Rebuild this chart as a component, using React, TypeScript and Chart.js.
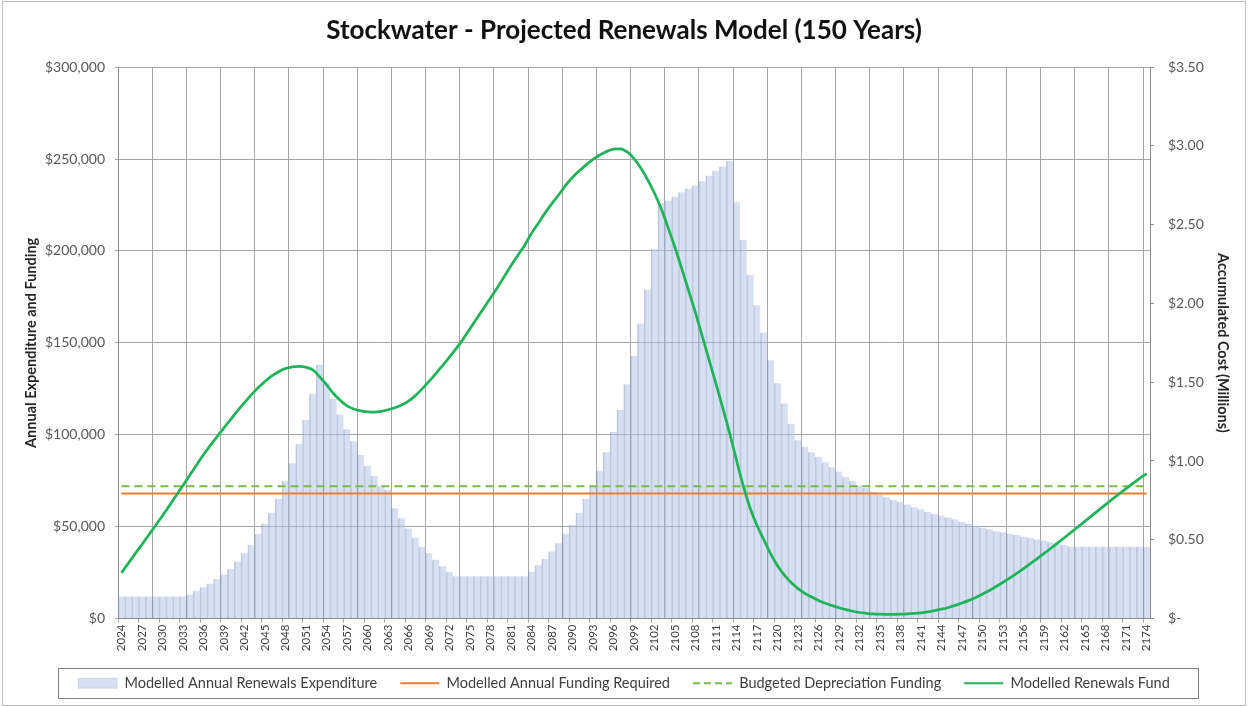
import React, { useEffect, useRef } from 'react';
import { Chart, registerables } from 'chart.js';

Chart.register(...registerables);

// Categories: 2024 .. 2174 (150-year model)
const years: string[] = Array.from({ length: 151 }, (_, i) => String(2024 + i));
const labelEvery = 3; // x tick label interval (years)
const gridEvery = 5; // vertical gridline interval (years)

// Modelled Annual Renewals Expenditure ($)
const expenditure: number[] = [
  12000, 12000, 12000, 12000, 12000, 12000, 12000, 12000, 12000, 12000,
  13000, 15000, 17000, 19000, 21500, 24000, 27000, 31000, 35500, 40000,
  46000, 51500, 57500, 65000, 75000, 84500, 95000, 108000, 122000, 138000,
  128000, 119500, 111000, 103000, 96500, 89000, 83000, 77500, 72000, 70000,
  60000, 54500, 49000, 44000, 39000, 35500, 32000, 28500, 25500, 23000,
  23000, 23000, 23000, 23000, 23000, 23000, 23000, 23000, 23000, 23000,
  25500, 29000, 32500, 36500, 41000, 46000, 51000, 57500, 65000, 71500,
  80500, 90500, 101500, 113500, 127500, 143000, 160500, 179000, 201000, 226000,
  227500, 229500, 232000, 234000, 235500, 238000, 241000, 243500, 246000, 249000,
  226500, 206000, 187000, 170500, 155500, 140500, 128000, 117000, 106000, 97000,
  93500, 90500, 88000, 85000, 82500, 80000, 77000, 75000, 72500, 71000,
  69000, 67500, 66000, 64500, 63500, 62000, 60500, 59500, 58000, 57000,
  56000, 55000, 54000, 52500, 51500, 50500, 49500, 48500, 47500, 47000,
  46000, 45500, 44500, 44000, 43000, 42500, 41500, 40500, 40000, 39000,
  39000, 39000, 39000, 39000, 39000, 39000, 39000, 39000, 39000, 39000,
  39000,
];

// Constant annual funding levels ($)
const fundingRequired = 68000;
const depreciationFunding = 72000;

// Modelled Renewals Fund ($ millions, right axis)
const renewalsFund: number[] = [
  0.29, 0.35, 0.41, 0.47, 0.53, 0.59, 0.652, 0.715, 0.78, 0.845,
  0.91, 0.975, 1.04, 1.098, 1.155, 1.21, 1.265, 1.32, 1.37, 1.42,
  1.465, 1.505, 1.54, 1.567, 1.587, 1.598, 1.6, 1.595, 1.578, 1.535,
  1.485, 1.43, 1.385, 1.35, 1.33, 1.318, 1.312, 1.31, 1.315, 1.325,
  1.338, 1.355, 1.38, 1.415, 1.458, 1.505, 1.555, 1.607, 1.66, 1.715,
  1.775, 1.84, 1.905, 1.97, 2.035, 2.1, 2.17, 2.24, 2.305, 2.37,
  2.445, 2.51, 2.575, 2.635, 2.69, 2.75, 2.8, 2.842, 2.88, 2.915,
  2.943, 2.965, 2.98, 2.982, 2.962, 2.92, 2.86, 2.785, 2.7, 2.6,
  2.48, 2.355, 2.22, 2.08, 1.94, 1.79, 1.64, 1.49, 1.335, 1.175,
  1.005, 0.84, 0.7, 0.59, 0.5, 0.41, 0.335, 0.275, 0.228, 0.19,
  0.16, 0.136, 0.115, 0.097, 0.082, 0.068, 0.056, 0.046, 0.038, 0.033,
  0.029, 0.027, 0.026, 0.026, 0.027, 0.029, 0.032, 0.036, 0.042, 0.05,
  0.059, 0.07, 0.083, 0.098, 0.115, 0.134, 0.155, 0.178, 0.203, 0.23,
  0.258, 0.287, 0.317, 0.348, 0.38, 0.413, 0.446, 0.48, 0.514, 0.548,
  0.583, 0.618, 0.653, 0.688, 0.723, 0.758, 0.792, 0.825, 0.858, 0.89,
  0.92,
];

const seriesNames = [
  'Modelled Annual Renewals Expenditure',
  'Modelled Annual Funding Required',
  'Budgeted Depreciation Funding',
  'Modelled Renewals Fund',
];

const FONT = 'Lato';
const GRID = '#a6a6a6';
const AXIS = '#8c8c8c';
const TRANSPARENT = 'rgba(0,0,0,0)';

export default function App() {
  const ref = useRef<HTMLCanvasElement>(null);

  useEffect(() => {
    document.body.style.margin = '0';
    const canvas = ref.current;
    if (!canvas) return;

    const framePlugin = {
      id: 'frames',
      beforeDraw(chart: any) {
        const { ctx, width, height } = chart;
        ctx.save();
        ctx.fillStyle = '#ffffff';
        ctx.fillRect(0, 0, width, height);
        ctx.restore();
      },
      afterDraw(chart: any) {
        const { ctx, width, height } = chart;
        const boxes = chart.legend && chart.legend.legendHitBoxes;
        ctx.save();
        if (boxes && boxes.length) {
          const first = boxes[0];
          const last = boxes[boxes.length - 1];
          const l = Math.round(first.left - 20) + 0.5;
          const r = Math.round(last.left + last.width + 28) + 0.5;
          const t = Math.round(first.top - 8) + 0.5;
          const b = Math.round(first.top + first.height + 7) + 0.5;
          ctx.strokeStyle = '#7f7f7f';
          ctx.lineWidth = 1;
          ctx.strokeRect(l, t, r - l, b - t);
        }
        ctx.strokeStyle = '#bfbfbf';
        ctx.lineWidth = 1;
        ctx.strokeRect(2.5, 1.5, width - 5, height - 3);
        ctx.restore();
      },
    };

    const chart = new Chart(canvas, {
      type: 'bar',
      data: {
        labels: years,
        datasets: [
          {
            type: 'bar',
            label: seriesNames[0],
            data: expenditure,
            yAxisID: 'y',
            backgroundColor: 'rgba(176,196,230,0.52)',
            borderColor: 'rgba(120,140,180,0.45)',
            borderWidth: { left: 1, top: 0, right: 0, bottom: 0 } as any,
            borderSkipped: 'bottom',
            barPercentage: 1,
            categoryPercentage: 1,
            order: 4,
          },
          {
            type: 'line',
            label: seriesNames[1],
            data: years.map(() => fundingRequired),
            yAxisID: 'y',
            borderColor: '#ED7D31',
            backgroundColor: '#ED7D31',
            borderWidth: 2,
            pointRadius: 0,
            order: 3,
          },
          {
            type: 'line',
            label: seriesNames[2],
            data: years.map(() => depreciationFunding),
            yAxisID: 'y',
            borderColor: '#77BC4B',
            backgroundColor: '#77BC4B',
            borderWidth: 2,
            borderDash: [8, 5],
            pointRadius: 0,
            order: 2,
          },
          {
            type: 'line',
            label: seriesNames[3],
            data: renewalsFund,
            yAxisID: 'y1',
            borderColor: '#1FB35A',
            backgroundColor: '#1FB35A',
            borderWidth: 2.75,
            pointRadius: 0,
            cubicInterpolationMode: 'monotone',
            order: 1,
          },
        ] as any,
      },
      options: {
        animation: false,
        responsive: false,
        maintainAspectRatio: false,
        layout: { padding: { left: 0, right: 0, top: 0, bottom: 14 } },
        plugins: {
          title: {
            display: true,
            text: 'Stockwater - Projected Renewals Model (150 Years)',
            font: { family: FONT, size: 26, weight: 'bold' },
            color: '#111111',
            padding: { top: 15, bottom: 21 },
          },
          legend: {
            position: 'bottom',
            maxHeight: 40,
            labels: {
              usePointStyle: true,
              pointStyleWidth: 39,
              boxHeight: 10,
              padding: 23,
              color: '#404040',
              font: { family: FONT, size: 14.5 },
              sort: (a: any, b: any) => a.datasetIndex - b.datasetIndex,
              generateLabels: (ch: any) => {
                const items = (Chart.defaults.plugins.legend.labels as any).generateLabels(ch);
                items.forEach((it: any) => {
                  const ds = ch.data.datasets[it.datasetIndex];
                  if (it.datasetIndex === 0) {
                    it.pointStyle = 'rect';
                    it.lineWidth = 0.5;
                  } else {
                    it.pointStyle = 'line';
                    it.strokeStyle = ds.borderColor;
                    it.lineWidth = 2;
                    it.lineDash = ds.borderDash ? [7, 4] : [];
                  }
                });
                return items;
              },
            },
          },
          tooltip: { enabled: false },
        },
        scales: {
          x: {
            type: 'category',
            offset: true,
            grid: {
              offset: true,
              color: (c: any) =>
                c.index !== undefined && c.index % gridEvery === 0 ? GRID : TRANSPARENT,
              tickColor: (c: any) =>
                c.index !== undefined && c.index % labelEvery === 0 ? GRID : TRANSPARENT,
              tickLength: 4,
            },
            border: { display: true, color: AXIS },
            ticks: {
              autoSkip: false,
              minRotation: 90,
              maxRotation: 90,
              padding: 2,
              color: '#404040',
              font: { family: FONT, size: 11.5 },
              callback: (_v: any, i: number) => (i % labelEvery === 0 ? years[i] : ''),
            },
            afterFit: (s: any) => {
              s.height = 34.5;
            },
          },
          y: {
            type: 'linear',
            position: 'left',
            min: 0,
            max: 300000,
            grid: { color: GRID, tickLength: 3 },
            border: { display: true, color: AXIS },
            ticks: {
              stepSize: 50000,
              padding: 10,
              color: '#595959',
              font: { family: FONT, size: 14 },
              callback: (v: any) => '$' + Number(v).toLocaleString('en-US'),
            },
            title: {
              display: true,
              text: 'Annual Expenditure and Funding',
              color: '#262626',
              font: { family: FONT, size: 14.5, weight: 'bold' },
              padding: { top: 23, bottom: 0 },
            },
            afterFit: (s: any) => {
              s.width = 118;
            },
          },
          y1: {
            type: 'linear',
            position: 'right',
            min: 0,
            max: 3.5,
            grid: { drawOnChartArea: false, color: AXIS, tickLength: 4 },
            border: { display: true, color: AXIS },
            ticks: {
              stepSize: 0.5,
              padding: 14,
              color: '#595959',
              font: { family: FONT, size: 14 },
              callback: (v: any) => (Number(v) === 0 ? '$-' : '$' + Number(v).toFixed(2)),
            },
            title: {
              display: true,
              text: 'Accumulated Cost (Millions)',
              color: '#262626',
              font: { family: FONT, size: 14.5, weight: 'bold' },
              padding: { top: 17, bottom: 0 },
            },
            afterFit: (s: any) => {
              s.width = 98;
            },
          },
        },
      } as any,
      plugins: [framePlugin],
    });

    return () => chart.destroy();
  }, []);

  return (
    <div style={{ width: 1248, height: 707 }}>
      <canvas ref={ref} width={1248} height={707} style={{ display: 'block' }} />
    </div>
  );
}
